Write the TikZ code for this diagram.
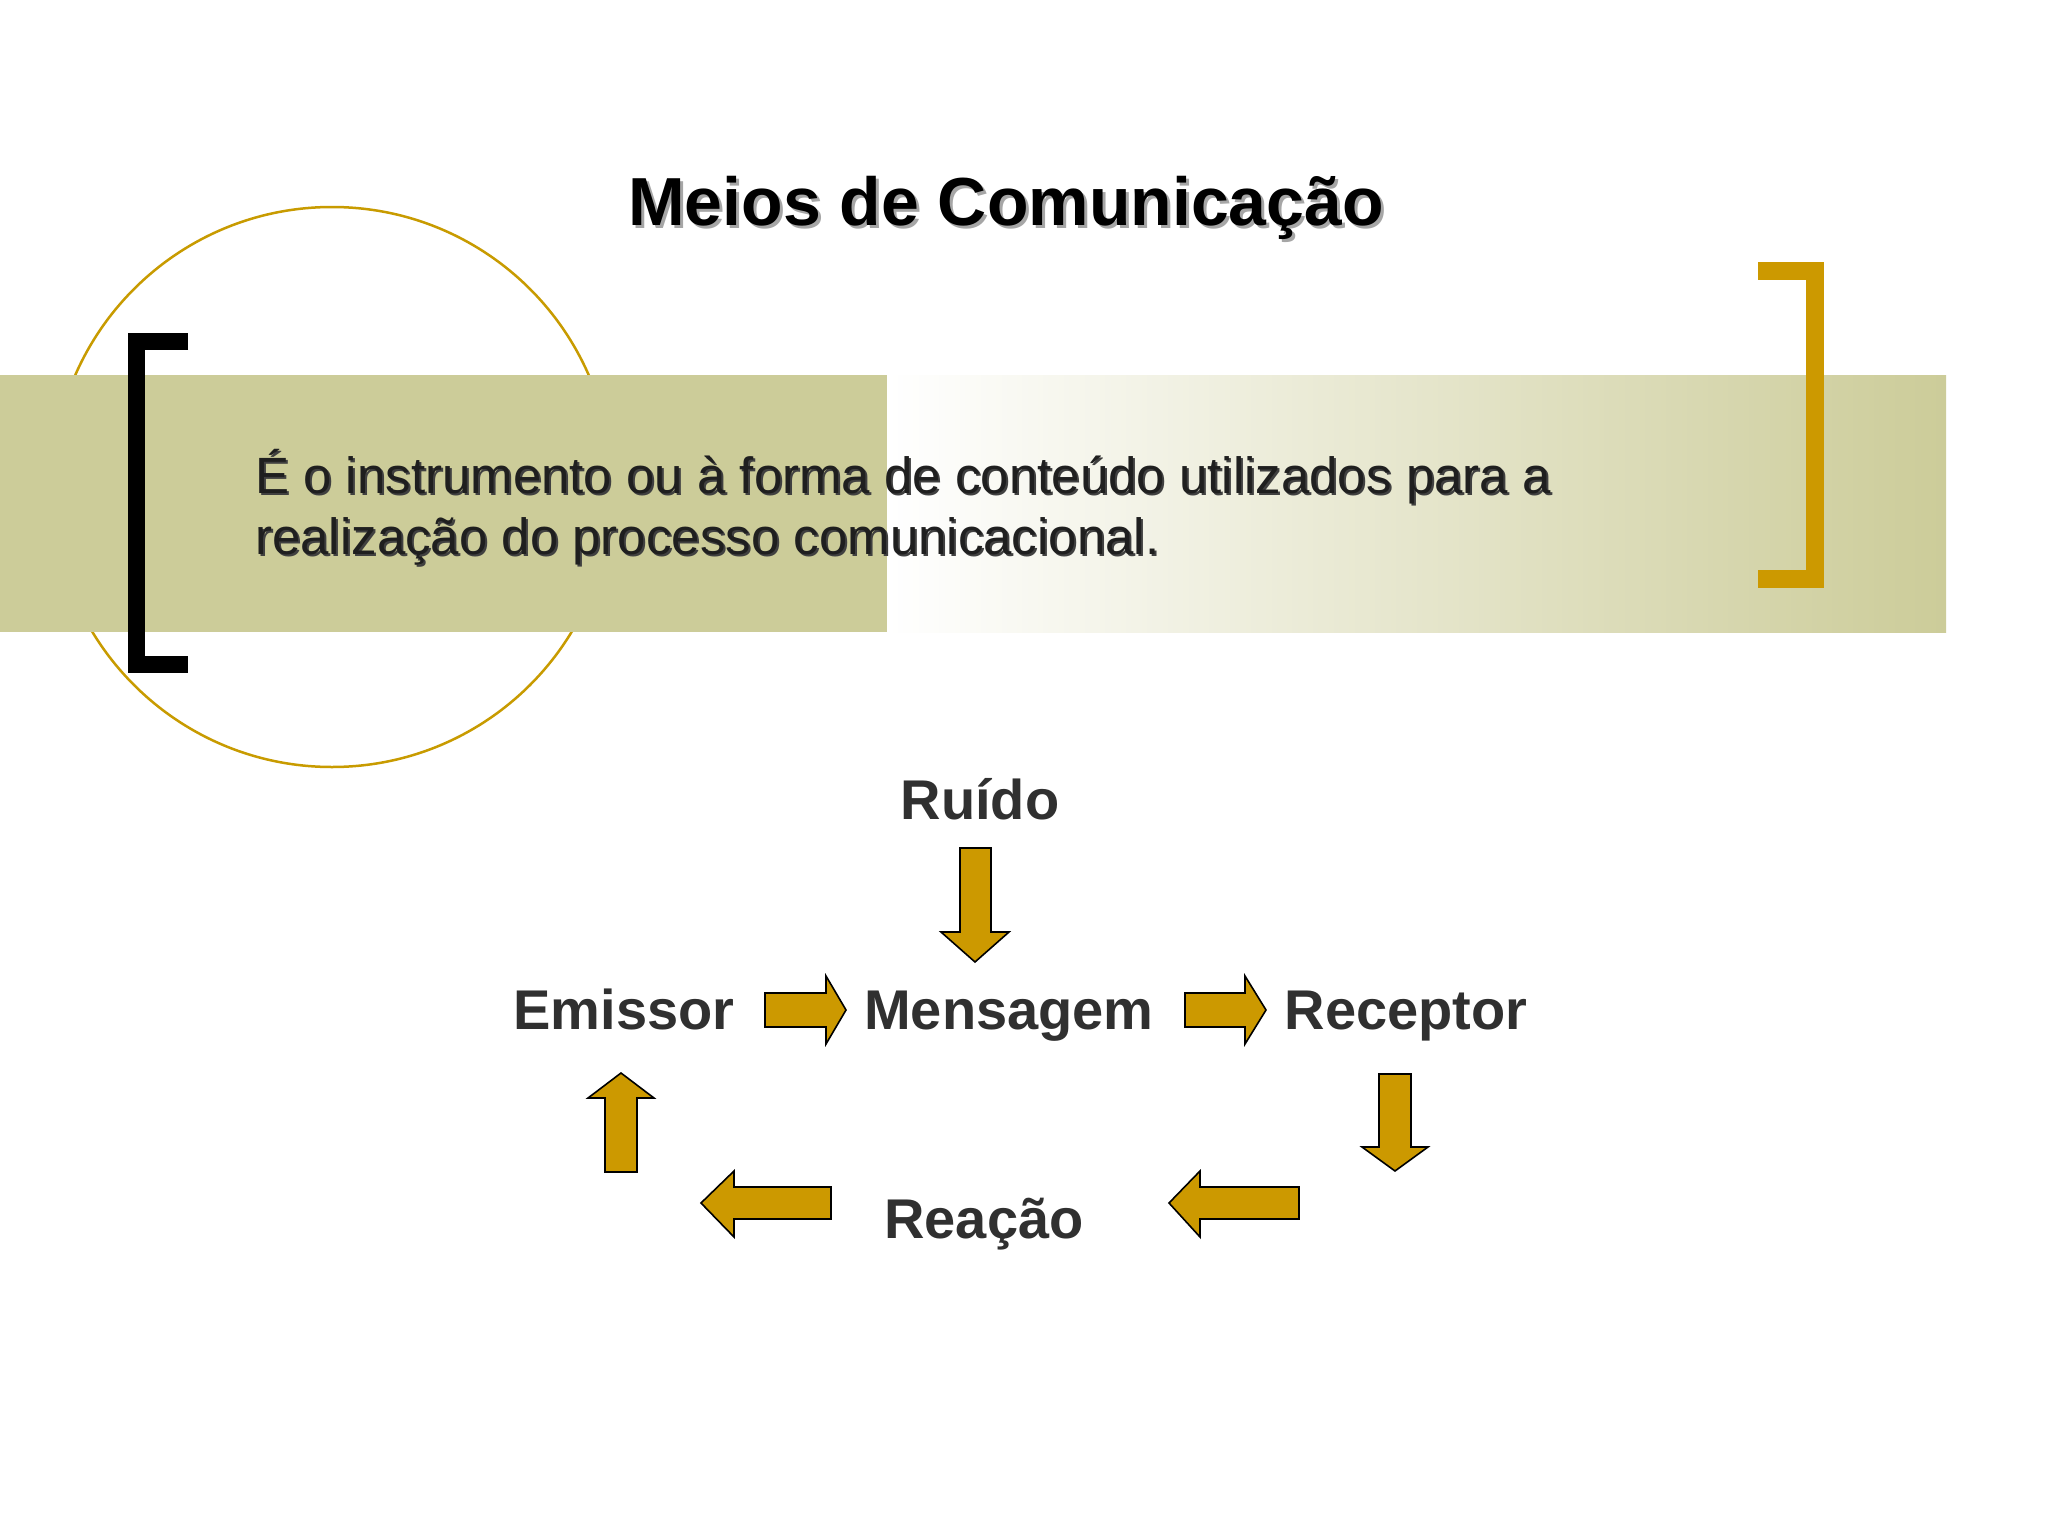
\documentclass[tikz,border=0pt]{standalone}
\usepackage{fontspec}
\setmainfont{Liberation Sans}
\definecolor{khaki}{HTML}{CCCC99}
\definecolor{gold}{HTML}{CC9900}
\definecolor{ring}{HTML}{C89B00}
\definecolor{label}{HTML}{303030}
\tikzset{
  blockarrow/.style={fill=gold, draw=black, line width=1.6pt, line join=miter},
  lbl/.style={anchor=base, text=label, font=\fontsize{56}{60}\selectfont\bfseries, inner sep=0pt},
  titletext/.style={anchor=base, font=\fontsize{68}{76}\selectfont\bfseries, inner sep=0pt},
  bodytext/.style={anchor=base west, font=\fontsize{51}{60}\selectfont, inner sep=0pt},
}
\begin{document}
\begin{tikzpicture}[x=1pt,y=-1pt]
\useasboundingbox (0,0) rectangle (2048,1536);
\fill[white] (0,0) rectangle (2048,1536);
% circle
\draw[ring, line width=2.5pt] (332,487) circle[radius=280pt];
% band
\fill[khaki] (0,375) rectangle (887,632);
\shade[left color=white, right color=khaki] (887,375) rectangle (1946,632);
% brackets
\draw[black, line width=17pt, line join=miter] (188,341.5) -- (136.5,341.5) -- (136.5,664.5) -- (188,664.5);
\draw[gold, line width=18pt, line join=miter] (1758,270.5) -- (1815,270.5) -- (1815,578.5) -- (1758,578.5);
% title
\node[titletext, text=black!35] (titleshadow) at (1009,228) {Meios de Comunicação};
\node[titletext, text=black] (title) at (1006,225) {Meios de Comunicação};
% body
\node[bodytext, text=black!75] (body1s) at (257,495) {É o instrumento ou à forma de conteúdo utilizados para a};
\node[bodytext, text=black!75] (body2s) at (257,556) {realização do processo comunicacional.};
\node[bodytext, text=black!88] (body1) at (255,493) {É o instrumento ou à forma de conteúdo utilizados para a};
\node[bodytext, text=black!88] (body2) at (255,554) {realização do processo comunicacional.};
% labels
\node[lbl] (ruido) at (980,819) {Ruído};
\node[lbl] (emissor) at (624,1029) {Emissor};
\node[lbl] (mensagem) at (1009,1029) {Mensagem};
\node[lbl] (receptor) at (1406,1029) {Receptor};
\node[lbl] (reacao) at (984,1238) {Reação};
% arrows
% down under Ruido
\draw[blockarrow] (960,848) -- (991,848) -- (991,932) -- (1009,932) -- (975,962) -- (941,932) -- (960,932) -- cycle;
% right Emissor -> Mensagem
\draw[blockarrow] (765,993) -- (826,993) -- (826,976) -- (846,1010) -- (826,1044) -- (826,1027) -- (765,1027) -- cycle;
% right Mensagem -> Receptor
\draw[blockarrow] (1185,993) -- (1245,993) -- (1245,976) -- (1266,1010) -- (1245,1044) -- (1245,1027) -- (1185,1027) -- cycle;
% down under Receptor
\draw[blockarrow] (1379,1074) -- (1411,1074) -- (1411,1147) -- (1428,1147) -- (1395,1171) -- (1362,1147) -- (1379,1147) -- cycle;
% left right of Reacao
\draw[blockarrow] (1299,1187) -- (1200,1187) -- (1200,1171) -- (1169,1203) -- (1200,1237) -- (1200,1219) -- (1299,1219) -- cycle;
% left left of Reacao
\draw[blockarrow] (831,1187) -- (734,1187) -- (734,1171) -- (701,1203) -- (734,1237) -- (734,1219) -- (831,1219) -- cycle;
% up under Emissor
\draw[blockarrow] (605,1172) -- (637,1172) -- (637,1098) -- (654,1098) -- (621,1073) -- (588,1098) -- (605,1098) -- cycle;
\end{tikzpicture}
\end{document}
